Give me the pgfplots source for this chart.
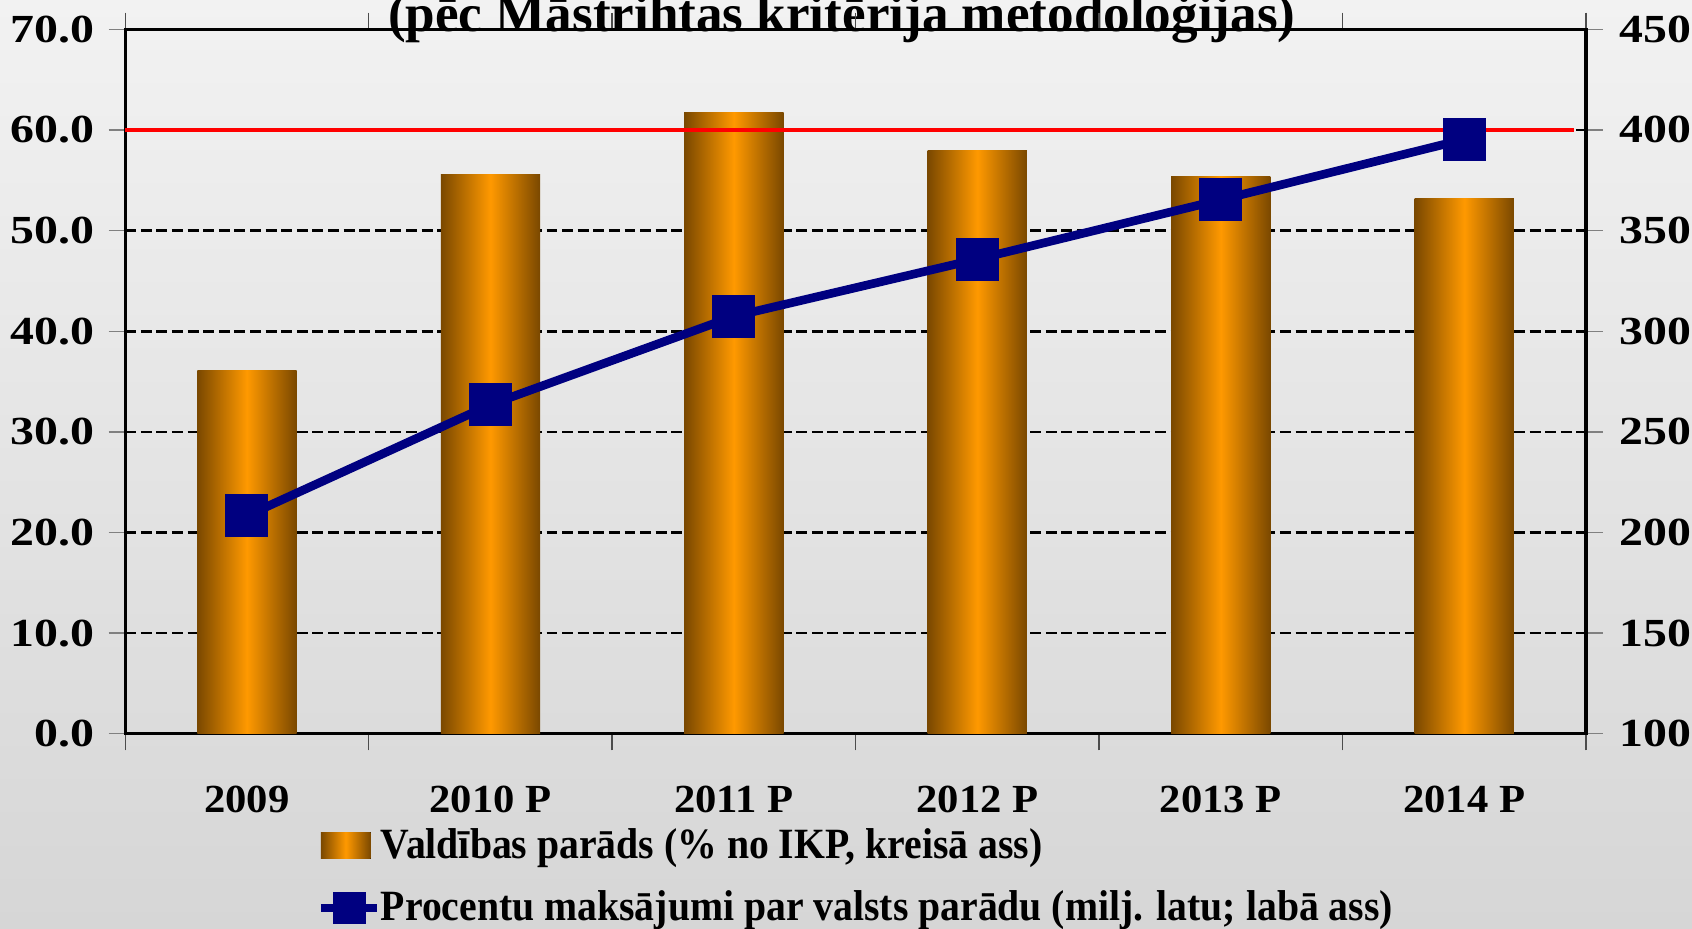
\documentclass[border=0pt]{standalone}
\usepackage{fontspec}
\setmainfont{Liberation Serif}
\newfontfamily\tickfont{Liberation Serif}[FakeStretch=1.2]
\newfontfamily\xtickfont{Liberation Serif}[FakeStretch=1.07]
\newfontfamily\legfont{Liberation Serif}[FakeStretch=0.92]
\usepackage{pgfplots}
\pgfplotsset{compat=1.18}

\definecolor{bgtop}{HTML}{F2F2F2}
\definecolor{bgbot}{HTML}{D6D6D6}
\definecolor{bardark}{HTML}{7A4800}
\definecolor{barmid}{HTML}{FF9900}
\definecolor{navyline}{HTML}{000080}

\pgfplotsset{
  barshade/.style={ybar, bar width=29.9pt, bar shift=0pt, draw=none,
    left color=bardark, right color=bardark, middle color=barmid},
  ticklbl/.style={font=\tickfont\fontsize{12}{14}\selectfont\bfseries},
  boxlegend/.style={legend image code/.code={\fill[##1] (0pt,-4pt) rectangle (15pt,4pt);}},
  linelegend/.style={legend image code/.code={
    \draw[##1, line width=2.2pt] (0pt,0pt) -- (17pt,0pt);
    \fill[navyline] (5pt,-3.6pt) rectangle (12.2pt,3.6pt);}},
}

\begin{document}
\begin{tikzpicture}
% background
\shade[top color=bgtop, bottom color=bgbot] (-37.7pt,-58.5pt) rectangle (471.9pt,221pt);
\node[anchor=base, font=\fontsize{16}{18}\selectfont\bfseries] at (215.8pt,211.5pt)
  {(pēc Māstrihtas kritērija metodoloģijas)};

\begin{axis}[
  at={(0pt,0pt)}, anchor=south west,
  scale only axis, width=440pt, height=212.2pt,
  xmin=-0.5, xmax=5.5, ymin=0, ymax=70,
  xtick={-0.5,0.5,...,5.5}, xticklabels={},
  extra x ticks={0,1,2,3,4,5},
  extra x tick labels={2009,2010 P,2011 P,2012 P,2013 P,2014 P},
  extra x tick style={major tick length=0pt, grid=none},
  xtick style={black!70, thin},
  ytick={0,10,...,70},
  ytick style={gray, thin},
  tick align=outside,
  major tick length=5pt,
  ymajorgrids,
  grid style={black, line width=0.8pt, dash pattern=on 3.3pt off 1.4pt},
  axis line style={black, line width=1pt},
  yticklabel style={ticklbl, inner sep=0pt, xshift=-4pt,
    /pgf/number format/.cd, fixed, fixed zerofill, precision=1, assume math mode=true},
  xticklabel style={font=\xtickfont\fontsize{12}{14}\selectfont\bfseries,
    inner sep=0pt, yshift=-15.5pt},
]
% Valdibas parads, % no IKP (one plot per bar so each gets its own shading)
\addplot[barshade] coordinates {(0,36.1)};
\addplot[barshade] coordinates {(1,55.6)};
\addplot[barshade] coordinates {(2,61.7)};
\addplot[barshade] coordinates {(3,58.0)};
\addplot[barshade] coordinates {(4,55.4)};
\addplot[barshade] coordinates {(5,53.2)};
\addplot[red, line width=1pt] coordinates {(-0.5,60) (5.45,60)};
\end{axis}

\begin{axis}[
  at={(0pt,0pt)}, anchor=south west,
  scale only axis, width=440pt, height=212.2pt,
  xmin=-0.5, xmax=5.5, ymin=100, ymax=450,
  axis y line*=right, axis x line=none,
  ytick={100,150,...,450},
  ytick style={gray, thin},
  tick align=outside,
  major tick length=5pt,
  axis line style={black, line width=1pt},
  yticklabel style={ticklbl, inner sep=0pt, xshift=5pt,
    /pgf/number format/assume math mode=true},
  legend style={at={(0.131,-0.133)}, anchor=north west, draw=none, fill=none,
    inner sep=0pt, row sep=8.3pt, nodes={inner sep=0pt},
    font=\legfont\fontsize{13}{15}\selectfont\bfseries},
  legend cell align=left,
]
\addlegendimage{barshade, boxlegend}
\addlegendentry{Valdības parāds (\% no IKP, kreisā ass)}
\addplot[navyline, line width=2.6pt, mark=square*, mark size=5.2pt, linelegend] coordinates {
  (0,208.3) (1,263.5) (2,307.4) (3,335.8) (4,365.3) (5,395.3)
};
\addlegendentry{Procentu maksājumi par valsts parādu (milj. latu; labā ass)}
\end{axis}

\pgfresetboundingbox
\useasboundingbox (-37.7pt,-58.5pt) rectangle (471.9pt,221pt);
\end{tikzpicture}
\end{document}
